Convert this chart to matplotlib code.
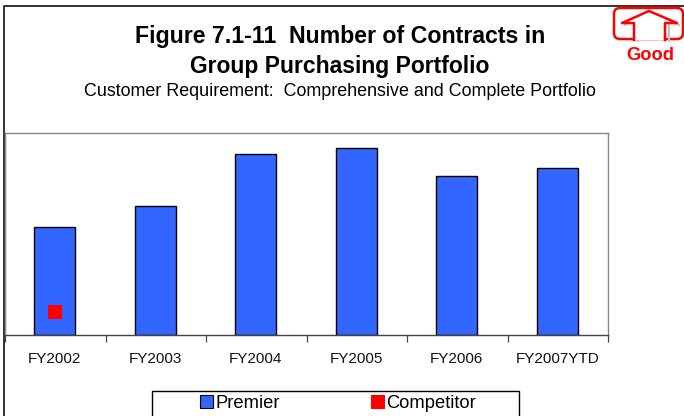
"""Number of contracts bar chart with competitor marker and Good arrow."""

import matplotlib

matplotlib.use("Agg")
import matplotlib.pyplot as plt
from matplotlib.patches import FancyBboxPatch, Polygon, Rectangle

W, H = 684, 416

years = ["FY2002", "FY2003", "FY2004", "FY2005", "FY2006", "FY2007YTD"]
premier = [108, 129, 181, 187, 159, 167]
competitor_years = ["FY2002"]
competitor = [23]

plt.rcParams["font.family"] = ["Liberation Sans", "DejaVu Sans"]

fig = plt.figure(figsize=(W / 100, H / 100), dpi=100, facecolor="white")

# overlay in pixel coordinates for the frame, titles and the icon
over = fig.add_axes([0, 0, 1, 1], zorder=0)
over.set_xlim(0, W)
over.set_ylim(H, 0)
over.axis("off")
over.plot([4, 4, W], [H, 6, 6], color="#222222", lw=1.3, solid_capstyle="butt")

over.text(340, 37, "Figure 7.1-11  Number of Contracts in", ha="center", va="center",
          fontsize=16.7, fontweight="bold", color="black")
over.text(340, 66, "Group Purchasing Portfolio", ha="center", va="center",
          fontsize=16.5, fontweight="bold", color="black")
over.text(340, 91, "Customer Requirement:  Comprehensive and Complete Portfolio", ha="center", va="center",
          fontsize=12.9, color="black")

# Good arrow
house = [(622, 23), (649, 11), (677, 23), (665, 23), (665, 40), (634, 40), (634, 23)]
over.add_patch(FancyBboxPatch((614, 8), 69, 31, boxstyle="round,pad=0,rounding_size=6",
                              fc="white", ec="red", lw=1.8, zorder=2))
over.plot([638, 638], [25, 41], color="#c4c4c4", lw=1.5, zorder=3)
over.plot([669, 669], [25, 41], color="#c4c4c4", lw=1.5, zorder=3)
over.plot([625, 649, 679], [25, 14, 25], color="#c4c4c4", lw=1.5, zorder=3)
over.add_patch(Polygon(house, closed=True, fc="white", ec="none", zorder=4))
over.plot([634, 634, 622, 649, 677, 665, 665], [40, 23, 23, 11, 23, 23, 40], color="red", lw=1.8, zorder=5)
over.text(650, 55, "Good", ha="center", va="center", fontsize=13.2, fontweight="bold", color="red")

# legend frame runs off the bottom of the figure in the original
over.add_patch(Rectangle((152, 391), 367, 40, fc="white", ec="black", lw=1.0, zorder=2))

ax = fig.add_axes([5 / W, 1 - 335 / H, 603 / W, 202 / H], zorder=1)
ax.set_xlim(-0.495, len(years) - 0.495)
ax.set_ylim(0, 202)
ax.bar(years, premier, width=0.405, color="#3366ff", edgecolor="black", linewidth=1, label="Premier")
ax.scatter(competitor_years, competitor, marker="s", s=100, color="red", linewidths=0, zorder=3, label="Competitor")

ax.set_yticks([])
ax.set_xticks([i - 0.495 for i in range(len(years) + 1)], minor=True)
ax.set_xticks(range(len(years)), years)
ax.tick_params(axis="x", which="major", length=0, pad=12, labelsize=11, colors="#111111")
ax.tick_params(axis="x", which="minor", length=5, width=0.9, color="#444444", direction="out")
ax.patch.set_facecolor("white")
for name in ("top", "right", "left"):
    ax.spines[name].set_color("#888888")
    ax.spines[name].set_linewidth(1.0)
ax.spines["bottom"].set_color("#444444")
ax.spines["bottom"].set_linewidth(1.0)

handles = [
    Rectangle((0, 0), 1, 1, fc="#3366ff", ec="black", lw=0.8),
    Rectangle((0, 0), 1, 1, fc="red", ec="red", lw=0.8),
]
leg = fig.legend(handles, ["Premier", "Competitor"], ncols=2, loc="center left",
                 bbox_to_anchor=(200 / W, 1 - 403 / H), bbox_transform=fig.transFigure,
                 frameon=False, fontsize=13.2, borderaxespad=0, borderpad=0,
                 handlelength=0.7, handleheight=0.7, handletextpad=0.13, columnspacing=5.0)
leg.set_zorder(5)

fig.savefig("out.png", dpi=100)
